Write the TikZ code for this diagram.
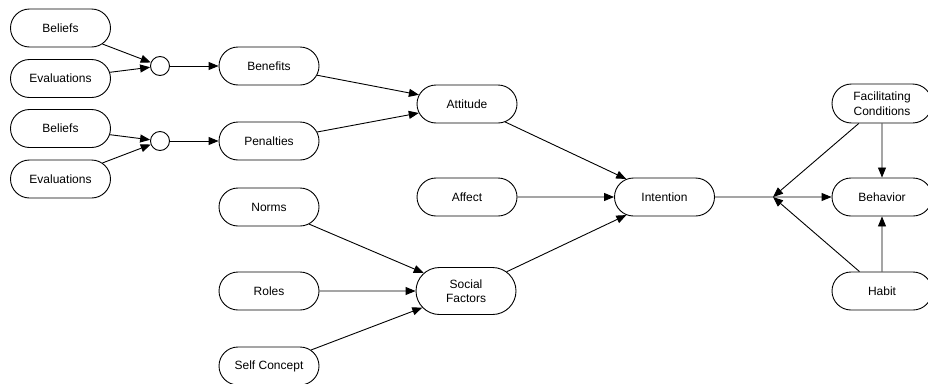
\documentclass[tikz,border=0pt]{standalone}
\usepackage{fontspec}
\setmainfont{Liberation Sans}
\usetikzlibrary{arrows.meta,shapes.misc}
\begin{document}
\begin{tikzpicture}[x=1pt,y=-1pt,
  box/.style={draw,line width=0.9pt,rounded rectangle,minimum width=104pt,minimum height=38pt,inner sep=2pt,align=center,font=\fontsize{12}{14.5}\selectfont},
  tall/.style={minimum height=47pt},
  mid/.style={minimum height=39pt},
  junc/.style={draw,line width=0.9pt,circle,minimum size=19pt,inner sep=0pt},
  con/.style={line width=0.9pt,-{Triangle[length=10pt,width=8pt]}},
  ln/.style={line width=0.9pt}]
\useasboundingbox (0,0) rectangle (928,383);
\clip (0,0) rectangle (928,383);
\node[box] (bel1) at (60.5,28) {Beliefs};
\node[box] (eva1) at (60.5,78.5) {Evaluations};
\node[box] (bel2) at (60.5,128.5) {Beliefs};
\node[box] (eva2) at (60.5,179) {Evaluations};
\node[junc] (c1) at (160,66) {};
\node[junc] (c2) at (160,141) {};
\node[box] (ben) at (269,66) {Benefits};
\node[box] (pen) at (269,141) {Penalties};
\node[box] (nor) at (269,207) {Norms};
\node[box] (rol) at (269,291) {Roles};
\node[box] (sel) at (269,366) {Self Concept};
\node[box] (att) at (467,104) {Attitude};
\node[box] (aff) at (467,197) {Affect};
\node[box,tall] (soc) at (466,291) {Social\\Factors};
\node[box] (int) at (664.5,197) {Intention};
\node[box,mid] (fac) at (882,103.5) {Facilitating\\Conditions};
\node[box] (beh) at (882,197) {Behavior};
\node[box] (hab) at (882,291) {Habit};
\coordinate (j) at (773,197);
\draw[con] (bel1) -- (c1);
\draw[con] (eva1) -- (c1);
\draw[con] (c1) -- (ben);
\draw[con] (bel2) -- (c2);
\draw[con] (eva2) -- (c2);
\draw[con] (c2) -- (pen);
\draw[con] (ben) -- (att);
\draw[con] (pen) -- (att);
\draw[con] (att) -- (int);
\draw[con] (aff) -- (int);
\draw[con] (soc) -- (int);
\draw[con] (nor) -- (soc);
\draw[con] (rol) -- (soc);
\draw[con] (sel) -- (soc);
\draw[con] (int) -- (beh);
\draw[con] (fac) -- (j);
\draw[con] (hab) -- (j);
\draw[con] (fac) -- (beh);
\draw[con] (hab) -- (beh);
\end{tikzpicture}
\end{document}
